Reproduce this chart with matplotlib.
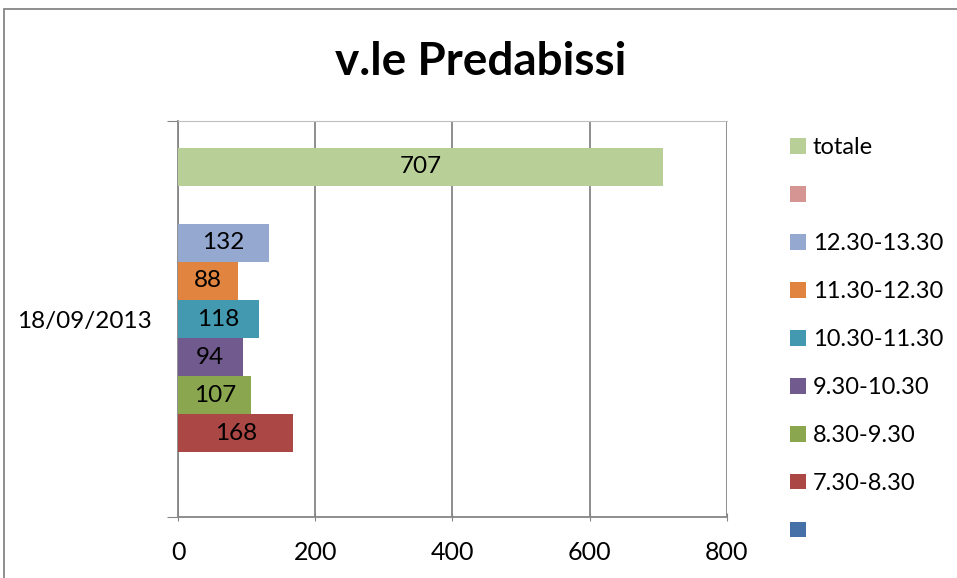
import matplotlib.pyplot as plt
from matplotlib.patches import Rectangle, Patch

plt.rcParams['font.family'] = ['Lato', 'DejaVu Sans']

# dati
categoria = '18/09/2013'
serie = ['', '7.30-8.30', '8.30-9.30', '9.30-10.30', '10.30-11.30',
         '11.30-12.30', '12.30-13.30', '', 'totale']
valori = [None, 168, 107, 94, 118, 88, 132, None, 707]
colori = ['#4671A8', '#AB4744', '#8AA64F', '#715A8E', '#4299B0',
          '#E0843F', '#95A9D0', '#D59593', '#B9CF98']

fig = plt.figure(figsize=(9.57, 5.78), dpi=100)
ax = fig.add_axes([178/957, 61/578, 549/957, 396/578])

for i, (s, v, c) in enumerate(zip(serie, valori, colori)):
    if v is None:
        continue
    ax.barh(i, v, height=1.0, color=c, linewidth=0, zorder=3)
    ax.text(v / 2, i, str(v), ha='center', va='center', fontsize=17.5, zorder=4)

ax.set_xlim(0, 800)
ax.set_ylim(-1.21, 9.21)
ax.set_xticks([0, 200, 400, 600, 800])
ax.tick_params(axis='x', labelsize=18, length=6, color='#868686', direction='inout', pad=14)
ax.grid(axis='x', color='#868686', linewidth=1.3, zorder=0)

# asse categorie
ax.set_yticks([-1.21, 9.21])
ax.set_yticklabels(['', ''])
ax.tick_params(axis='y', length=8, color='#868686', direction='out')
ax.set_yticks([4], minor=True)
ax.set_yticklabels([categoria], minor=True, fontsize=17.5)
ax.tick_params(axis='y', which='minor', length=0, pad=19)

for side in ['left', 'bottom']:
    ax.spines[side].set_color('#868686')
    ax.spines[side].set_linewidth(1.3)
ax.spines['top'].set_color('#BFBFBF')
ax.spines['right'].set_visible(False)

fig.text(481/957, 1 - 62/578, 'v.le Predabissi', ha='center', va='center',
         fontsize=33, fontweight='bold')

# legenda
handles = [Patch(facecolor=c, edgecolor='none') for c in colori[::-1]]
fig.legend(handles, serie[::-1], loc='upper left', bbox_to_anchor=(781/957, 1 - 128/578),
           frameon=False, fontsize=17, handlelength=0.65, handleheight=0.65,
           handletextpad=0.3, labelspacing=1.14, borderaxespad=0)

fig.patches.append(Rectangle((4/957, -0.1), 1.2, 1 - 9/578 + 0.1, transform=fig.transFigure,
                             fill=False, edgecolor='#868686', linewidth=1.3))

fig.savefig('out.png', dpi=100)
